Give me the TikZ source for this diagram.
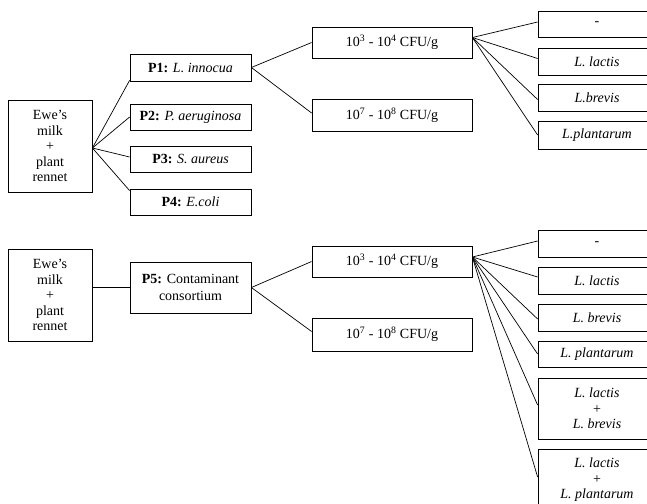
\documentclass[tikz,border=0pt]{standalone}
\usepackage{fontspec}
\setmainfont{Liberation Serif}
\begin{document}
\begin{tikzpicture}[x=1pt,y=-1pt,
  box/.style={draw, line width=0.8pt, align=center, inner sep=0pt,
    font=\fontsize{14}{15.5}\selectfont},
  wh/.style 2 args={minimum width=#1pt, minimum height=#2pt},
  ln/.style={line width=0.7pt}]
\useasboundingbox (0,0) rectangle (647,503);
\clip (0,0) rectangle (647,503);
% ---------- top ----------
\node[box, wh={84}{92}] (m1) at (50,146) {Ewe’s\\milk\\+\\plant\\rennet};
\node[box, wh={121}{27}] (p1) at (190.5,67.5) {\textbf{P1:} \textit{L. innocua}};
\node[box, wh={121}{26}] (p2) at (190.5,117) {\textbf{P2:} \textit{P. aeruginosa}};
\node[box, wh={121}{26}] (p3) at (190.5,159) {\textbf{P3:} \textit{S. aureus}};
\node[box, wh={121}{26}] (p4) at (190.5,202) {\textbf{P4:} \textit{E.coli}};
\node[box, wh={160}{31}] (c1) at (392,42.5) {10\textsuperscript{3} - 10\textsuperscript{4} CFU/g};
\node[box, wh={160}{32}] (c2) at (392,115) {10\textsuperscript{7} - 10\textsuperscript{8} CFU/g};
\node[box, wh={118}{26}] (r1) at (597,24) {-};
\node[box, wh={118}{27}] (r2) at (597,61.5) {\textit{L. lactis}};
\node[box, wh={118}{27}] (r3) at (597,97.5) {\textit{L.brevis}};
\node[box, wh={118}{28}] (r4) at (597,135) {\textit{L.plantarum}};
\coordinate (o1) at ([yshift=-2pt]m1.east);
\draw[ln] (o1) -- ([yshift=1pt]p1.south west);
\draw[ln] (o1) -- (p2.west);
\draw[ln] (o1) -- ([yshift=2pt]p3.west);
\draw[ln] (o1) -- ([yshift=-2pt]p4.north west);
\draw[ln] (p1.east) -- (c1.west);
\draw[ln] (p1.east) -- ([yshift=2pt]c2.west);
\coordinate (o2) at ([yshift=5pt]c1.east);
\draw[ln] (o2) -- ([yshift=2pt]r1.west);
\draw[ln] (o2) -- ([yshift=3pt]r2.west);
\draw[ln] (o2) -- ([yshift=-2pt]r3.west);
\draw[ln] (o2) -- (r4.west);
% ---------- bottom ----------
\node[box, wh={84}{92}] (m2) at (50,295) {Ewe’s\\milk\\+\\plant\\rennet};
\node[box, wh={121}{51}, font=\fontsize{14}{16.5}\selectfont] (p5) at (190.5,287.5) {\textbf{P5:} Contaminant\\consortium};
\node[box, wh={160}{31}] (d1) at (392,261.5) {10\textsuperscript{3} - 10\textsuperscript{4} CFU/g};
\node[box, wh={160}{33}] (d2) at (392,334.5) {10\textsuperscript{7} - 10\textsuperscript{8} CFU/g};
\node[box, wh={118}{27}] (s1) at (597,243.5) {-};
\node[box, wh={118}{27}] (s2) at (597,280.5) {\textit{L. lactis}};
\node[box, wh={118}{27}] (s3) at (597,317.5) {\textit{L. brevis}};
\node[box, wh={118}{26}] (s4) at (597,354) {\textit{L. plantarum}};
\node[box, wh={118}{61}] (s5) at (597,408.5) {\textit{L. lactis}\\+\\\textit{L. brevis}};
\node[box, wh={118}{62}] (s6) at (597,480) {\textit{L. lactis}\\+\\\textit{L. plantarum}};
\draw[ln] (p5.west) -- (p5.west -| m2.east);
\draw[ln] (p5.east) -- (d1.west);
\draw[ln] (p5.east) -- ([yshift=3pt]d2.west);
\coordinate (o3) at ([yshift=4.5pt]d1.east);
\draw[ln] (o3) -- ([yshift=2.5pt]s1.west);
\draw[ln] (o3) -- ([yshift=3.5pt]s2.west);
\draw[ln] (o3) -- ([yshift=-1.5pt]s3.west);
\draw[ln] (o3) -- (s4.west);
\draw[ln] (o3) -- ([yshift=3.5pt]s5.west);
\draw[ln] (o3) -- ([yshift=3pt]s6.west);
\end{tikzpicture}
\end{document}
